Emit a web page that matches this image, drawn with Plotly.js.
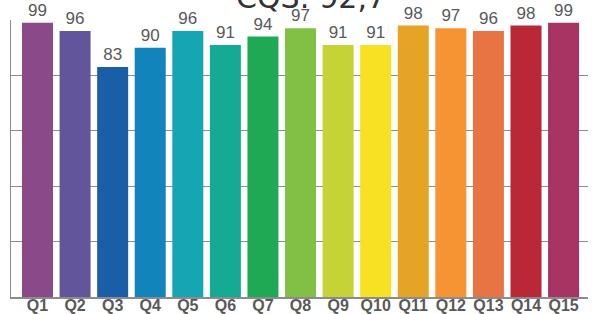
<!DOCTYPE html>
<html>
<head>
<meta charset="utf-8">
<script src="https://cdn.plot.ly/plotly-3.0.1.min.js"></script>
<style>html,body{margin:0;padding:0;background:#fff;}#chart{width:604px;height:314px;}</style>
</head>
<body>
<div id="chart"></div>
<script>
const categories = ["Q1","Q2","Q3","Q4","Q5","Q6","Q7","Q8","Q9","Q10","Q11","Q12","Q13","Q14","Q15"];
const values = [99,96,83,90,96,91,94,97,91,91,98,97,96,98,99];
const colors = ["#8A4A8A","#63559C","#1B5EA8","#1185BB","#16A5B2","#14AA93","#1FA955","#81BF45","#C5D336","#F8E122","#E6A427","#F69434","#E87443","#BA2737","#A83464"];
const titleText = "CQS: 92,7";

Plotly.newPlot("chart", [{
  type: "bar",
  x: categories,
  y: values,
  marker: {color: colors},
  text: values.map(String),
  textposition: "outside",
  cliponaxis: false,
  textfont: {family: "Liberation Sans, Arial, sans-serif", size: 17, color: "#595959"},
  hoverinfo: "none"
}], {
  width: 604, height: 314,
  margin: {l: 11, r: 16, t: 20, b: 17, pad: 0},
  paper_bgcolor: "#fff", plot_bgcolor: "#fff",
  bargap: 0.175,
  showlegend: false,
  annotations: [{
    text: titleText, xref: "paper", yref: "paper", x: 0.52, y: 1.083,
    xanchor: "center", yanchor: "middle", showarrow: false,
    font: {family: "DejaVu Sans, sans-serif", size: 30, color: "#333333"}
  }],
  xaxis: {
    type: "category", range: [-0.705, 14.65],
    showline: true, linecolor: "#8c8c8c", linewidth: 2,
    ticks: "", showgrid: false,
    tickfont: {family: "Liberation Sans, Arial, sans-serif", size: 16, color: "#595959", weight: "bold"},
    ticklen: 0, ticklabelstandoff: -7
  },
  yaxis: {
    range: [0, 100], dtick: 20, showticklabels: false,
    showgrid: true, gridcolor: "#8c8c8c", gridwidth: 1,
    showline: true, linecolor: "#8c8c8c", linewidth: 1.5,
    zeroline: false, ticks: ""
  }
}, {staticPlot: true});
</script>
</body>
</html>
